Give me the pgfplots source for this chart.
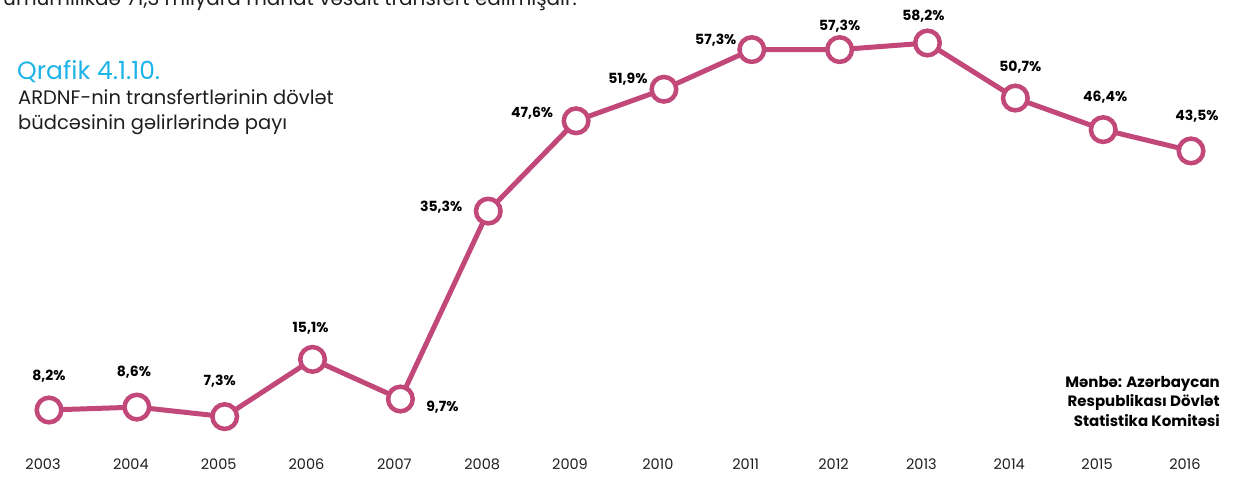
\documentclass[border=0pt]{standalone}
\usepackage{fontspec}
\setmainfont{Poppins}
\usepackage{pgfplots}
\pgfplotsset{compat=1.18}
\definecolor{linec}{RGB}{193,72,120}
\definecolor{titlec}{RGB}{30,180,232}
\definecolor{txt}{RGB}{30,30,30}
\begin{document}
\begin{tikzpicture}
\begin{axis}[
  scale only axis, width=1252pt, height=502pt,
  xmin=2002.442, xmax=2016.694, ymin=-4.33, ymax=64.06,
  axis line style={draw=none}, major tick length=0pt,
  ytick=\empty,
  xtick={2003,...,2016},
  xticklabels={2003,2004,2005,2006,2007,2008,2009,2010,2011,2012,2013,2014,2015,2016},
  xticklabel style={anchor=center, yshift=38pt, xshift=-6pt, font=\fontsize{14.5}{16}\selectfont, text=txt},
  clip=false,
]
\addplot[color=linec, line width=5pt, mark=*, mark size=12.3pt,
  mark options={fill=white, draw=linec, line width=4.5pt}]
  coordinates {(2003,8.2)(2004,8.6)(2005,7.3)(2006,15.1)(2007,9.7)(2008,35.3)(2009,47.6)(2010,51.9)(2011,57.3)(2012,57.3)(2013,58.2)(2014,50.7)(2015,46.4)(2016,43.5)};
\tikzset{lab/.style={font=\fontsize{14}{16}\selectfont\bfseries, text=black, inner sep=0pt}}
\node[lab] at (axis cs:2003,8.2) [yshift=34pt] {8,2\%};
\node[lab] at (axis cs:2004,8.6) [yshift=35pt, xshift=-3pt] {8,6\%};
\node[lab] at (axis cs:2005,7.3) [yshift=35pt, xshift=-5pt] {7,3\%};
\node[lab] at (axis cs:2006,15.1) [yshift=31pt, xshift=-2pt] {15,1\%};
\node[lab] at (axis cs:2007,9.7) [yshift=-8pt, xshift=42pt] {9,7\%};
\node[lab] at (axis cs:2008,35.3) [yshift=4pt, xshift=-47pt] {35,3\%};
\node[lab] at (axis cs:2009,47.6) [yshift=8pt, xshift=-44pt] {47,6\%};
\node[lab] at (axis cs:2010,51.9) [yshift=10pt, xshift=-36pt] {51,9\%};
\node[lab] at (axis cs:2011,57.3) [yshift=9pt, xshift=-36pt] {57,3\%};
\node[lab] at (axis cs:2012,57.3) [yshift=23pt] {57,3\%};
\node[lab] at (axis cs:2013,58.2) [yshift=27pt, xshift=-4pt] {58,2\%};
\node[lab] at (axis cs:2014,50.7) [yshift=31pt, xshift=5pt] {50,7\%};
\node[lab] at (axis cs:2015,46.4) [yshift=32pt, xshift=2pt] {46,4\%};
\node[lab] at (axis cs:2016,43.5) [yshift=35pt, xshift=6pt] {43,5\%};
\end{axis}
\begin{scope}[x=1pt, y=-1pt, yshift=502pt]
\node[anchor=base west, inner sep=0pt, text=txt, font=\fontsize{20}{23}\selectfont] at (3,6) {ümumilikdə 71,3 milyard manat vəsait transfert edilmişdir.};
\node[anchor=base west, inner sep=0pt, text=titlec, font=\fontsize{25}{28}\selectfont] at (17,80) {Qrafik 4.1.10.};
\node[anchor=base west, inner sep=0pt, text=txt, font=\fontsize{19.5}{22}\selectfont] at (18,105) {ARDNF-nin transfertlərinin dövlət};
\node[anchor=base west, inner sep=0pt, text=txt, font=\fontsize{19.5}{22}\selectfont] at (18,130) {büdcəsinin gəlirlərində payı};
\node[anchor=base east, inner sep=0pt, text=black, font=\fontsize{15}{17}\selectfont\bfseries] at (1220,388) {Mənbə: Azərbaycan};
\node[anchor=base east, inner sep=0pt, text=black, font=\fontsize{15}{17}\selectfont\bfseries] at (1220,407) {Respublikası Dövlət};
\node[anchor=base east, inner sep=0pt, text=black, font=\fontsize{15}{17}\selectfont\bfseries] at (1220,427) {Statistika Komitəsi};
\end{scope}
\pgfresetboundingbox
\useasboundingbox (0,0) rectangle (1252pt,502pt);
\end{tikzpicture}
\end{document}
